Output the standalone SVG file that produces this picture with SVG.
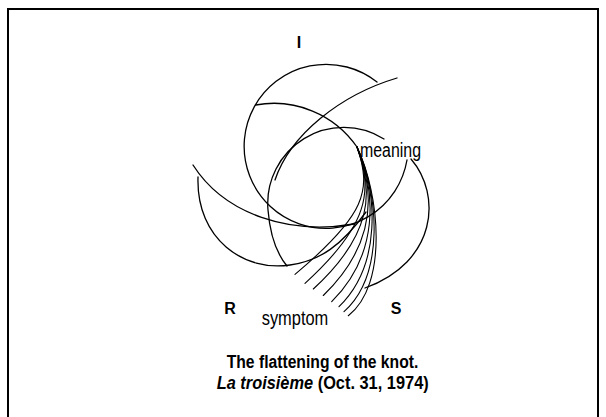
<svg xmlns="http://www.w3.org/2000/svg" width="606" height="417" viewBox="0 0 606 417">
<style>
.c{fill:none;stroke:#000;stroke-width:1.3;stroke-linecap:round}
.f{fill:none;stroke:#000;stroke-width:1.1;stroke-linecap:round}
.lbl{font-family:"Liberation Sans",Arial,sans-serif;font-weight:bold;font-size:16px;fill:#000}
.t{font-family:"Liberation Sans",Arial,sans-serif;font-size:20px;fill:#000}
.cap{font-family:"Liberation Sans",Arial,sans-serif;font-weight:bold;font-size:17.5px;fill:#000}
</style>
<rect width="606" height="417" fill="#fff"/>
<path d="M8 417 V9 H598 V417" fill="none" stroke="#000" stroke-width="2"/>
<g id="connectors">
  <path class="c" d="M377 82 A82 82 0 1 0 407 160"/>
  <path class="c" d="M255.6 105 A101 101 0 0 1 357 147"/>
  <path class="c" d="M384 139 A76 76 0 0 0 268 210 C270 235 277 254 287 266"/>
  <path class="c" d="M397 78 C340 95 290 135 275 180"/>
  <path class="c" d="M411 159 C442 195 437 262 365 288"/>
  <path class="c" d="M193 165 C225 215 290 235 354 224"/>
  <path class="c" d="M198 177 C196 240 245 272 290 265 C320 261 342 245 366 212"/>
  <g id="fan">
    <path class="f" d="M357 147 C372 190 366 215 295 274.3"/>
    <path class="f" d="M357 147 C373.1 190.7 369.1 225 305 283.3"/>
    <path class="f" d="M357 147 C374.3 191.4 372.3 235 313.3 289"/>
    <path class="f" d="M357 147 C375.4 192.1 375.4 245 323.3 295.5"/>
    <path class="f" d="M357 147 C376.6 192.9 378.6 255 331.7 301.7"/>
    <path class="f" d="M357 147 C377.7 193.6 381.7 265 339 306.7"/>
    <path class="f" d="M357 147 C378.9 194.3 384.9 275 344 311.7"/>
    <path class="f" d="M357 147 C380 195 388 285 348.3 315.7"/>
  </g>
</g>
<g id="label-I"><text class="lbl" x="299" y="48" text-anchor="middle">I</text></g>
<g id="label-R"><text class="lbl" x="230" y="313.5" text-anchor="middle">R</text></g>
<g id="label-S"><text class="lbl" x="396" y="314" text-anchor="middle">S</text></g>
<g id="label-meaning"><text class="t" x="360" y="156.7" textLength="61" lengthAdjust="spacingAndGlyphs">meaning</text></g>
<g id="label-symptom"><text class="t" x="261.7" y="324.5" textLength="66.6" lengthAdjust="spacingAndGlyphs">symptom</text></g>
<g id="caption">
  <text class="cap" x="226.7" y="368.3" textLength="191.6" lengthAdjust="spacingAndGlyphs">The flattening of the knot.</text>
  <text class="cap" x="216.7" y="389.3" textLength="212" lengthAdjust="spacingAndGlyphs"><tspan font-style="italic">La troisième</tspan> (Oct. 31, 1974)</text>
</g>
</svg>
